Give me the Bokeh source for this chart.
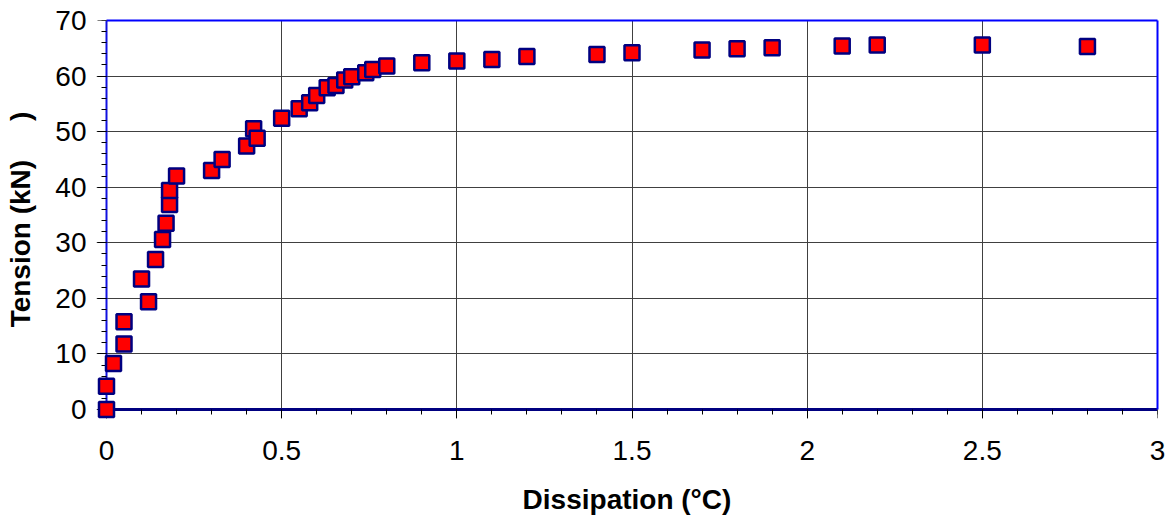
from bokeh.plotting import figure
from bokeh.models import SingleIntervalTicker, FixedTicker, Range1d, LinearAxis, Grid
from bokeh.embed import file_html
from bokeh.resources import INLINE

# Data
dissipation = [0.0, 0.0, 0.02, 0.05, 0.05, 0.10, 0.12, 0.14, 0.16, 0.17, 0.18, 0.18, 0.20,
               0.30, 0.33, 0.40, 0.42, 0.43, 0.50, 0.55, 0.58, 0.60, 0.63, 0.655, 0.68, 0.70,
               0.74, 0.76, 0.80, 0.90, 1.00, 1.10, 1.20, 1.40, 1.50, 1.70, 1.80, 1.90,
               2.10, 2.20, 2.50, 2.80]
tension = [0.0, 4.2, 8.3, 11.8, 15.8, 23.5, 19.4, 27.0, 30.6, 33.5, 36.9, 39.4, 42.0,
           43.0, 45.0, 47.4, 50.5, 48.8, 52.4, 54.1, 55.2, 56.5, 57.9, 58.3, 59.3, 59.9,
           60.6, 61.2, 61.8, 62.4, 62.7, 63.0, 63.5, 63.9, 64.2, 64.7, 64.9, 65.1,
           65.4, 65.6, 65.6, 65.3]

x_label = "Dissipation (°C)"
y_label = "Tension (kN)\u00a0\u00a0\u00a0\u00a0\u00a0)"

X_MIN, X_MAX = 0.0, 3.0
Y_MIN, Y_MAX = 0.0, 70.0

FONT = "Liberation Sans"

# The frame is padded on the left and bottom so that the markers sitting on
# the axes are not clipped; the axis lines/ticks are pinned to x=0 / y=0.
AX_L, AX_B = 106, 410          # pixel position of the x=0 / y=0 axis lines
FRAME_L, FRAME_R, FRAME_T, FRAME_B = 96, 1157, 20, 419
px_x = (FRAME_R - AX_L) / (X_MAX - X_MIN)
px_y = (AX_B - FRAME_T) / (Y_MAX - Y_MIN)

p = figure(width=1173, height=517, output_backend="svg", toolbar_location=None,
           x_range=Range1d(X_MIN - (AX_L - FRAME_L) / px_x, X_MAX),
           y_range=Range1d(Y_MIN - (FRAME_B - AX_B) / px_y, Y_MAX),
           x_axis_type=None, y_axis_type=None,
           min_border_left=FRAME_L, min_border_right=1173 - FRAME_R,
           min_border_top=FRAME_T, min_border_bottom=517 - FRAME_B)

p.background_fill_color = "white"
p.border_fill_color = "white"
p.outline_line_color = None

xt = SingleIntervalTicker(interval=0.5, num_minor_ticks=5)
yt = SingleIntervalTicker(interval=10, num_minor_ticks=5)

p.add_layout(Grid(dimension=0, ticker=xt, bounds=(X_MIN, X_MAX),
                  grid_line_color="#404040", grid_line_width=1))
p.add_layout(Grid(dimension=1, ticker=yt, bounds=(Y_MIN, Y_MAX),
                  grid_line_color="#404040", grid_line_width=1))

# axes holding the tick labels and titles (at the frame edges, no lines)
xlab = LinearAxis(ticker=xt, bounds=(X_MIN, X_MAX), axis_label=x_label)
ylab = LinearAxis(ticker=yt, bounds=(Y_MIN, Y_MAX), axis_label=y_label)
for ax in (xlab, ylab):
    ax.axis_line_color = None
    ax.major_tick_line_color = None
    ax.minor_tick_line_color = None
    ax.major_tick_in = ax.major_tick_out = 0
    ax.minor_tick_in = ax.minor_tick_out = 0
    ax.major_label_text_font = FONT
    ax.major_label_text_font_size = "28px"
    ax.major_label_text_color = "black"
    ax.axis_label_text_font = FONT
    ax.axis_label_text_font_size = "28px"
    ax.axis_label_text_font_style = "bold"
    ax.axis_label_text_color = "black"
xlab.major_label_standoff = 22
xlab.axis_label_standoff = 21
ylab.major_label_standoff = 10
ylab.axis_label_standoff = 16
ylab.major_label_orientation = "horizontal"
p.add_layout(xlab, "below")
p.add_layout(ylab, "left")

# axis lines and ticks pinned at x=0 / y=0 (labels not drawn)
xaxis = LinearAxis(ticker=xt, fixed_location=Y_MIN, bounds=(X_MIN, X_MAX))
yaxis = LinearAxis(ticker=yt, fixed_location=X_MIN, bounds=(Y_MIN, Y_MAX))
for ax in (xaxis, yaxis):
    ax.major_label_text_color = None
    ax.major_tick_line_color = "black"
    ax.minor_tick_line_color = "black"
    ax.major_tick_in = 0
    ax.major_tick_out = 9
    ax.minor_tick_in = 0
    ax.minor_tick_out = 5
xaxis.axis_line_color = "#000080"
xaxis.axis_line_width = 3
yaxis.axis_line_color = "#1010E0"
yaxis.axis_line_width = 2
p.add_layout(xaxis, "below")
p.add_layout(yaxis, "left")

# top and right border of the plot area
for side, bnds in (("above", (X_MIN, X_MAX)), ("right", (Y_MIN, Y_MAX))):
    b = LinearAxis(ticker=FixedTicker(ticks=[]), bounds=bnds,
                   axis_line_color="#0000FF", axis_line_width=2,
                   major_tick_line_color=None, minor_tick_line_color=None,
                   major_label_text_color=None, major_label_standoff=0)
    p.add_layout(b, side)

p.scatter(dissipation, tension, marker="square", size=15,
          fill_color="#FF0000", line_color="#000080", line_width=2.5,
          level="overlay")

open("out.html", "w").write(file_html(p, INLINE))
